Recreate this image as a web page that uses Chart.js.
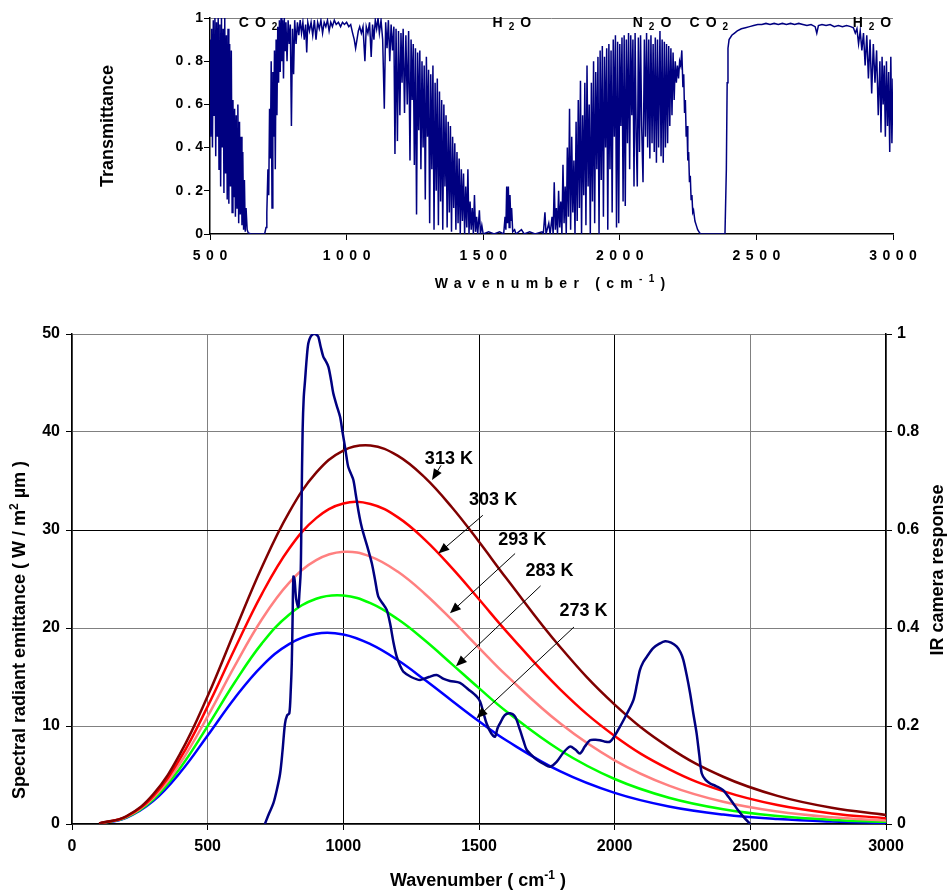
<!DOCTYPE html>
<html>
<head>
<meta charset="utf-8">
<script src="https://cdn.jsdelivr.net/npm/chart.js@4.4.0/dist/chart.umd.min.js"></script>
<style>
  html, body { margin: 0; padding: 0; background: #fff; }
  #chartTrans { position: absolute; left: 0; top: 0; }
  #chartPlanck { position: absolute; left: 0; top: 300px; }
</style>
</head>
<body>
<canvas id="chartTrans" width="949" height="300"></canvas>
<canvas id="chartPlanck" width="949" height="591"></canvas>
<script>
// ---- data: atmospheric transmittance (wavenumber cm-1, transmittance) ----
const transmittanceSpectrum = [
  [500,0.90],[503,0.45],[506,0.95],[509,0.40],[512,0.99],[515,0.55],[518,1.0],[521,0.36],[524,0.98],[527,0.45],
  [530,1.0],[533,0.30],[536,0.97],[539,0.22],[542,1.0],[545,0.40],[548,0.95],[551,0.19],[554,1.0],[557,0.28],
  [560,0.92],[563,0.16],[566,0.95],[569,0.14],[572,0.88],[575,0.22],[578,0.85],[581,0.10],[584,0.62],[587,0.17],
  [590,0.58],[593,0.08],[596,0.55],[599,0.12],[602,0.60],[605,0.05],[608,0.52],[611,0.09],[614,0.45],[617,0.04],
  [620,0.38],[623,0.02],[626,0.25],[629,0.01],[632,0.12],[636,0.02],[640,0.005],[650,0],[680,0],[700,0],
  [705,0.03],[708,0.10],[712,0.30],[715,0.18],[718,0.58],[721,0.35],[724,0.80],[727,0.12],[730,0.75],[733,0.45],
  [736,0.85],[739,0.30],[742,0.90],[745,0.55],[748,0.96],[751,0.70],[754,0.99],[757,0.75],[760,1.0],[763,0.80],
  [766,0.99],[769,0.72],[772,1.0],[775,0.85],[778,0.98],[782,0.80],[786,0.99],[790,0.88],[794,0.97],[798,0.50],
  [802,0.95],[806,0.74],[810,0.99],[815,0.88],[820,0.98],[825,0.92],[830,0.99],[835,0.93],[840,0.98],[845,0.90],
  [850,0.97],[854,0.84],[858,0.98],[864,0.94],[870,0.98],[876,0.92],[882,0.99],[888,0.90],[894,0.98],[900,0.95],
  [906,0.99],[912,0.93],[918,0.98],[924,0.96],[930,0.99],[936,0.94],[942,0.98],[948,0.96],[955,0.99],[962,0.97],
  [970,0.98],[978,0.96],[985,0.98],[992,0.97],[1000,0.98],[1008,0.96],[1015,0.97],[1022,0.93],[1028,0.90],[1033,0.86],
  [1038,0.90],[1043,0.94],[1048,0.96],[1054,0.93],[1060,0.96],[1067,0.80],[1072,0.96],[1078,0.93],[1084,0.98],[1090,0.82],
  [1095,0.97],[1100,0.90],[1105,0.99],[1110,0.95],[1115,1.0],[1120,0.93],[1126,0.99],[1132,0.90],[1138,0.58],[1143,0.98],
  [1148,0.86],[1153,0.99],[1158,0.80],[1163,0.97],[1168,0.85],[1173,0.96],[1177,0.37],[1181,0.95],[1186,0.43],[1190,0.94],
  [1195,0.55],[1199,0.93],[1203,0.70],[1207,0.95],[1212,0.56],[1217,0.92],[1222,0.60],[1227,0.94],[1232,0.34],[1236,0.90],
  [1240,0.62],[1244,0.88],[1248,0.32],[1252,0.86],[1256,0.09],[1260,0.84],[1264,0.48],[1268,0.85],[1272,0.30],[1276,0.80],
  [1280,0.40],[1284,0.78],[1288,0.16],[1292,0.82],[1296,0.45],[1300,0.76],[1304,0.05],[1308,0.74],[1312,0.30],[1316,0.78],
  [1320,0.02],[1324,0.70],[1328,0.20],[1332,0.72],[1336,0.04],[1340,0.66],[1344,0.15],[1348,0.62],[1352,0.02],[1356,0.60],
  [1360,0.22],[1364,0.55],[1368,0.03],[1372,0.52],[1376,0.10],[1380,0.50],[1384,0.01],[1388,0.45],[1392,0.12],[1396,0.42],
  [1400,0.02],[1404,0.38],[1408,0.05],[1412,0.35],[1416,0],[1420,0.30],[1424,0.06],[1428,0.28],[1432,0],[1436,0.22],
  [1440,0.03],[1444,0.30],[1448,0],[1452,0.15],[1456,0.02],[1460,0.12],[1464,0],[1468,0.18],[1472,0.01],[1476,0.08],
  [1480,0],[1486,0.11],[1490,0],[1495,0.04],[1500,0],[1520,0.01],[1540,0],[1560,0.01],[1575,0],[1580,0.08],
  [1583,0.02],[1586,0.22],[1589,0.05],[1592,0.22],[1595,0.03],[1598,0.18],[1601,0.06],[1604,0.12],[1608,0.01],[1615,0.02],
  [1620,0],[1640,0.02],[1650,0],[1670,0.01],[1690,0],[1715,0.01],[1720,0],[1726,0.10],[1730,0],[1740,0.05],
  [1745,0],[1752,0.08],[1756,0],[1760,0.24],[1764,0.02],[1768,0.12],[1772,0],[1776,0.20],[1780,0.03],[1784,0.15],
  [1788,0],[1792,0.32],[1796,0.05],[1800,0.22],[1804,0],[1808,0.40],[1812,0.08],[1816,0.58],[1820,0.02],[1824,0.45],
  [1828,0.10],[1832,0.34],[1836,0],[1840,0.52],[1844,0.06],[1848,0.62],[1852,0.12],[1856,0.71],[1860,0],[1864,0.55],
  [1868,0.18],[1872,0.70],[1876,0.04],[1880,0.78],[1884,0.22],[1888,0.60],[1892,0],[1896,0.70],[1900,0.15],[1904,0.80],
  [1908,0.05],[1912,0.75],[1916,0.30],[1920,0.82],[1924,0],[1928,0.85],[1932,0.25],[1936,0.87],[1940,0.08],[1944,0.82],
  [1948,0.40],[1952,0.86],[1956,0.02],[1960,0.88],[1964,0.30],[1968,0.85],[1972,0.10],[1976,0.90],[1980,0.45],[1984,0.92],
  [1988,0.03],[1992,0.89],[1996,0.05],[2000,0.88],[2004,0.50],[2008,0.91],[2012,0.15],[2016,0.92],[2020,0.13],[2024,0.90],
  [2028,0.42],[2032,0.93],[2036,0.30],[2040,0.92],[2044,0.55],[2048,0.90],[2052,0.22],[2056,0.93],[2060,0.45],[2064,0.22],
  [2068,0.91],[2072,0.38],[2076,0.92],[2080,0.50],[2085,0.24],[2090,0.90],[2094,0.45],[2098,0.93],[2102,0.40],[2106,0.90],
  [2110,0.35],[2114,0.92],[2118,0.42],[2122,0.88],[2126,0.38],[2130,0.91],[2134,0.33],[2138,0.90],[2142,0.40],[2147,0.94],
  [2151,0.36],[2155,0.90],[2159,0.33],[2163,0.89],[2167,0.40],[2171,0.88],[2175,0.42],[2179,0.87],[2183,0.50],[2187,0.86],
  [2191,0.55],[2195,0.84],[2199,0.62],[2203,0.80],[2207,0.70],[2211,0.78],[2215,0.72],[2219,0.80],[2223,0.78],[2227,0.85],
  [2231,0.68],[2234,0.74],[2237,0.56],[2240,0.62],[2243,0.45],[2246,0.50],[2249,0.34],[2252,0.38],[2255,0.24],[2258,0.27],
  [2261,0.16],[2264,0.18],[2267,0.10],[2270,0.11],[2275,0.06],[2280,0.04],[2285,0.02],[2290,0.01],[2295,0],[2385,0],
  [2390,0.30],[2393,0.70],[2396,0.86],[2400,0.90],[2410,0.92],[2420,0.93],[2430,0.94],[2445,0.95],[2460,0.955],[2475,0.96],
  [2490,0.965],[2505,0.97],[2520,0.97],[2535,0.975],[2550,0.97],[2565,0.975],[2580,0.97],[2595,0.975],[2610,0.97],[2625,0.975],
  [2640,0.97],[2655,0.975],[2670,0.97],[2685,0.965],[2700,0.97],[2715,0.96],[2721,0.93],[2727,0.965],[2740,0.97],[2755,0.965],
  [2770,0.97],[2785,0.96],[2800,0.965],[2815,0.96],[2830,0.965],[2845,0.96],[2855,0.955],[2862,0.93],[2868,0.95],[2874,0.88],
  [2880,0.94],[2886,0.85],[2892,0.93],[2898,0.78],[2904,0.92],[2910,0.72],[2916,0.90],[2922,0.65],[2928,0.88],[2934,0.70],
  [2940,0.85],[2946,0.55],[2952,0.80],[2956,0.47],[2960,0.82],[2964,0.60],[2968,0.78],[2972,0.45],[2976,0.80],[2980,0.50],
  [2984,0.75],[2988,0.38],[2992,0.82],[2996,0.42],[3000,0.72]
];

// ---- data: spectral radiant emittance (W / m2 um) at wavenumber ----
const wavenumbers = [100,200,300,400,500,600,700,800,900,1000,1100,1200,1300,1400,1500,1600,1800,2000,2200,2400,2600,2800,3000];
const emit313 = [0.06,0.79,3.06,7.25,13.05,19.70,26.23,31.81,35.85,38.11,38.62,37.59,35.37,32.32,28.80,25.10,18.03,12.18,7.82,4.82,2.87,1.66,0.93];
const emit303 = [0.06,0.76,2.88,6.74,12.00,17.88,23.49,28.09,31.21,32.70,32.65,31.31,29.02,26.13,22.93,19.69,13.72,8.99,5.60,3.35,1.93,1.08,0.59];
const emit293 = [0.06,0.72,2.70,6.25,10.98,16.13,20.89,24.60,26.92,27.77,27.29,25.76,23.50,20.82,17.98,15.19,10.25,6.50,3.92,2.27,1.27,0.69,0.36];
const emit283 = [0.06,0.68,2.53,5.77,9.99,14.46,18.43,21.36,22.99,23.32,22.53,20.91,18.75,16.32,13.86,11.51,7.50,4.59,2.68,1.50,0.81,0.42,0.22];
const emit273 = [0.05,0.64,2.36,5.30,9.03,12.86,16.12,18.36,19.41,19.34,18.35,16.73,14.71,12.58,10.48,8.54,5.36,3.17,1.78,0.96,0.50,0.25,0.12];
const tempLabels = ['313 K', '303 K', '293 K', '283 K', '273 K'];

// ---- data: IR camera response (wavenumber, relative response) ----
const cameraResponse = [
  [711,0],[725,0.02],[742,0.042],[755,0.07],[767,0.103],[776,0.15],[785,0.205],[793,0.222],[801,0.226],[806,0.27],
  [810,0.328],[813,0.42],[816,0.505],[820,0.50],[826,0.46],[834,0.443],[838,0.47],[843,0.518],[846,0.65],[850,0.804],
  [854,0.87],[859,0.906],[865,0.95],[871,0.981],[880,0.995],[890,1.0],[896,1.0],[902,0.998],[908,0.994],[916,0.975],
  [926,0.954],[935,0.945],[945,0.933],[955,0.905],[963,0.879],[975,0.855],[988,0.831],[997,0.80],[1006,0.770],[1012,0.748],
  [1018,0.729],[1028,0.715],[1037,0.702],[1046,0.672],[1055,0.641],[1064,0.615],[1074,0.593],[1090,0.563],[1105,0.532],[1118,0.495],
  [1129,0.464],[1145,0.45],[1160,0.437],[1172,0.41],[1185,0.37],[1197,0.341],[1210,0.322],[1221,0.311],[1250,0.30],[1283,0.294],
  [1315,0.30],[1344,0.304],[1370,0.296],[1393,0.292],[1430,0.288],[1460,0.275],[1492,0.260],[1504,0.25],[1515,0.23],[1528,0.205],
  [1545,0.185],[1559,0.178],[1568,0.195],[1577,0.205],[1595,0.222],[1614,0.226],[1633,0.219],[1651,0.192],[1665,0.168],[1676,0.151],
  [1695,0.14],[1713,0.131],[1740,0.122],[1762,0.117],[1786,0.127],[1810,0.145],[1835,0.158],[1855,0.152],[1872,0.144],[1890,0.158],
  [1909,0.171],[1930,0.172],[1946,0.171],[1965,0.168],[1983,0.168],[2000,0.18],[2020,0.199],[2045,0.225],[2069,0.253],[2082,0.285],
  [2093,0.314],[2105,0.33],[2118,0.341],[2142,0.359],[2165,0.368],[2186,0.373],[2208,0.370],[2229,0.362],[2243,0.350],[2253,0.335],
  [2265,0.305],[2278,0.267],[2290,0.225],[2302,0.185],[2312,0.14],[2321,0.103],[2335,0.09],[2351,0.083],[2375,0.077],[2400,0.069],
  [2420,0.055],[2437,0.042],[2455,0.028],[2474,0.015],[2499,0]
];

// ---- layout / annotation settings (data units) ----
const labelAt   = [[1389,37.2],[1552,33.1],[1659,29.0],[1760,25.8],[1885,21.7]];
const arrowFrom = [[1360,36.6],[1514,31.5],[1633,27.6],[1727,24.3],[1850,20.1]];
const arrowTo   = [[1327,35.1],[1350,27.6],[1393,21.5],[1415,16.1],[1491,10.8]];
const molecules = [
  { parts: [['CO',''],['2','sub']], x: 676 },
  { parts: [['H',''],['2','sub'],['O','']], x: 1605 },
  { parts: [['N',''],['2','sub'],['O','']], x: 2118 },
  { parts: [['CO',''],['2','sub']], x: 2326 },
  { parts: [['H',''],['2','sub'],['O','']], x: 2923 }
];

const FONT = '"Liberation Sans", Arial, sans-serif';
const planckColors = ['#800000', '#ff0000', '#ff8080', '#00ff00', '#0000ff'];

// draws text made of parts [text, ''|'sup'|'sub'] centred on x,y
function drawRich(ctx, parts, x, y, size, ls, align) {
  ctx.save();
  ctx.textBaseline = 'middle';
  ctx.textAlign = 'left';
  ctx.fillStyle = '#000';
  const pieces = parts.map(([t, kind]) => {
    const s = kind ? Math.round(size * 0.68) : size;
    ctx.font = `bold ${s}px ${FONT}`;
    ctx.letterSpacing = ls + 'px';
    return { t, s, kind, w: ctx.measureText(t).width };
  });
  const total = pieces.reduce((a, p) => a + p.w, 0) - ls;
  let cx = align === 'right' ? x - total : x - total / 2;
  pieces.forEach(p => {
    ctx.font = `bold ${p.s}px ${FONT}`;
    ctx.letterSpacing = ls + 'px';
    const dy = p.kind === 'sup' ? -size * 0.32 : p.kind === 'sub' ? size * 0.3 : 0;
    ctx.fillText(p.t, cx, y + dy);
    cx += p.w;
  });
  ctx.restore();
}

function drawRotated(ctx, parts, x, y, size, ls) {
  ctx.save();
  ctx.translate(x, y);
  ctx.rotate(-Math.PI / 2);
  drawRich(ctx, parts, 0, 0, size, ls);
  ctx.restore();
}

// ---- top chart: transmittance ----
const transLabels = {
  id: 'transLabels',
  afterDraw(chart) {
    const ctx = chart.ctx;
    const xs = chart.scales.x, ys = chart.scales.y;
    xs.ticks.forEach(t => {
      drawRich(ctx, [[String(t.value), '']], xs.getPixelForValue(t.value), 256, 14, 5.5);
    });
    ys.ticks.forEach(t => {
      const txt = t.value === 0 || t.value === 1 ? String(t.value) : t.value.toFixed(1);
      drawRich(ctx, [[txt, '']], 203, ys.getPixelForValue(t.value), 14, 4, 'right');
    });
    drawRotated(ctx, [['Transmittance', '']], 108, 126, 18, 0);
    drawRich(ctx, [['Wavenumber (cm', ''], ['-1', 'sup'], [')', '']], 550, 284, 14, 6.3);
    molecules.forEach(m => {
      drawRich(ctx, m.parts, xs.getPixelForValue(m.x), 23, 14, 6);
    });
  }
};

new Chart(document.getElementById('chartTrans'), {
  type: 'line',
  data: {
    datasets: [{
      data: transmittanceSpectrum.map(p => ({ x: p[0], y: p[1] })),
      borderColor: '#000080',
      borderWidth: 1.5,
      pointRadius: 0,
      tension: 0,
      fill: false
    }]
  },
  options: {
    responsive: false,
    animation: false,
    layout: { padding: { top: 18, right: 56, left: 0, bottom: 0 } },
    plugins: { legend: { display: false }, tooltip: { enabled: false } },
    scales: {
      x: {
        type: 'linear', min: 500, max: 3000,
        ticks: { stepSize: 500, display: false },
        grid: { drawOnChartArea: false, tickLength: 6, tickColor: '#000' },
        border: { color: '#000', width: 1.5 },
        afterFit: s => { s.height = 66; }
      },
      y: {
        min: 0, max: 1,
        ticks: { stepSize: 0.2, display: false },
        grid: {
          color: c => (c.tick && c.tick.value === 1 ? '#808080' : 'rgba(0,0,0,0)'),
          tickColor: '#000', tickLength: 6
        },
        border: { color: '#000', width: 1.5 },
        afterFit: s => { s.width = 210; }
      }
    }
  },
  plugins: [transLabels]
});

// ---- bottom chart: Planck curves + camera response ----
const planckLabels = {
  id: 'planckLabels',
  afterDatasetsDraw(chart) {
    const ctx = chart.ctx;
    const xs = chart.scales.x, ys = chart.scales.y;
    tempLabels.forEach((lab, i) => {
      drawRich(ctx, [[lab, '']], xs.getPixelForValue(labelAt[i][0]), ys.getPixelForValue(labelAt[i][1]), 18, 0);
      const x1 = xs.getPixelForValue(arrowFrom[i][0]), y1 = ys.getPixelForValue(arrowFrom[i][1]);
      const x2 = xs.getPixelForValue(arrowTo[i][0]), y2 = ys.getPixelForValue(arrowTo[i][1]);
      const ang = Math.atan2(y2 - y1, x2 - x1);
      ctx.save();
      ctx.strokeStyle = '#000';
      ctx.fillStyle = '#000';
      ctx.lineWidth = 1;
      ctx.beginPath();
      ctx.moveTo(x1, y1);
      ctx.lineTo(x2 - 8 * Math.cos(ang), y2 - 8 * Math.sin(ang));
      ctx.stroke();
      ctx.beginPath();
      ctx.moveTo(x2, y2);
      ctx.lineTo(x2 - 11 * Math.cos(ang) + 4.5 * Math.sin(ang), y2 - 11 * Math.sin(ang) - 4.5 * Math.cos(ang));
      ctx.lineTo(x2 - 11 * Math.cos(ang) - 4.5 * Math.sin(ang), y2 - 11 * Math.sin(ang) + 4.5 * Math.cos(ang));
      ctx.closePath();
      ctx.fill();
      ctx.restore();
    });
  },
  afterDraw(chart) {
    const ctx = chart.ctx;
    drawRich(ctx, [['Wavenumber ( cm', ''], ['-1', 'sup'], [' )', '']], 478, 581, 18, 0);
    drawRotated(ctx, [['Spectral radiant emittance ( W / m', ''], ['2', 'sup'], [' \u00b5m )', '']], 20, 330, 18, 0);
    drawRotated(ctx, [['IR camera response', '']], 938, 270, 18, 0);
  }
};

const planckSets = [emit313, emit303, emit293, emit283, emit273].map((arr, i) => ({
  label: tempLabels[i],
  data: arr.map((v, j) => ({ x: wavenumbers[j], y: v })),
  borderColor: planckColors[i],
  borderWidth: 2.5,
  pointRadius: 0,
  tension: 0.4,
  fill: false,
  yAxisID: 'y'
}));

const darkX = [1000, 1500, 2000];

new Chart(document.getElementById('chartPlanck'), {
  type: 'line',
  data: {
    datasets: [{
      label: 'IR camera response',
      data: cameraResponse.map(p => ({ x: p[0], y: p[1] })),
      borderColor: '#000080',
      borderWidth: 2.5,
      pointRadius: 0,
      tension: 0.3,
      fill: false,
      yAxisID: 'y2'
    }].concat(planckSets)
  },
  options: {
    responsive: false,
    animation: false,
    layout: { padding: { top: 34, right: 0, left: 0, bottom: 0 } },
    plugins: { legend: { display: false }, tooltip: { enabled: false } },
    scales: {
      x: {
        type: 'linear', min: 0, max: 3000,
        ticks: {
          stepSize: 500, color: '#000', font: { family: FONT, size: 16, weight: 'bold' }, padding: 7, maxRotation: 0,
          callback: v => String(v)
        },
        grid: {
          color: c => (c.tick && darkX.includes(c.tick.value) ? '#000' : '#808080'),
          lineWidth: 1, tickLength: 6, tickColor: '#000'
        },
        border: { color: '#000', width: 1.5 },
        afterFit: s => { s.height = 67; }
      },
      y: {
        position: 'left', min: 0, max: 50,
        ticks: { stepSize: 10, color: '#000', font: { family: FONT, size: 16, weight: 'bold' }, padding: 6 },
        grid: {
          color: c => (c.tick && c.tick.value === 30 ? '#000' : '#808080'),
          lineWidth: 1, tickLength: 6, tickColor: '#000'
        },
        border: { color: '#000', width: 1.5 },
        afterFit: s => { s.width = 72; }
      },
      y2: {
        position: 'right', min: 0, max: 1,
        ticks: {
          stepSize: 0.2, color: '#000', font: { family: FONT, size: 16, weight: 'bold' }, padding: 5,
          callback: v => (v === 0 || v === 1 ? String(v) : v.toFixed(1))
        },
        grid: { drawOnChartArea: false, tickLength: 6, tickColor: '#000' },
        border: { color: '#000', width: 1.5 },
        afterFit: s => { s.width = 63; }
      }
    }
  },
  plugins: [planckLabels]
});
</script>
</body>
</html>
